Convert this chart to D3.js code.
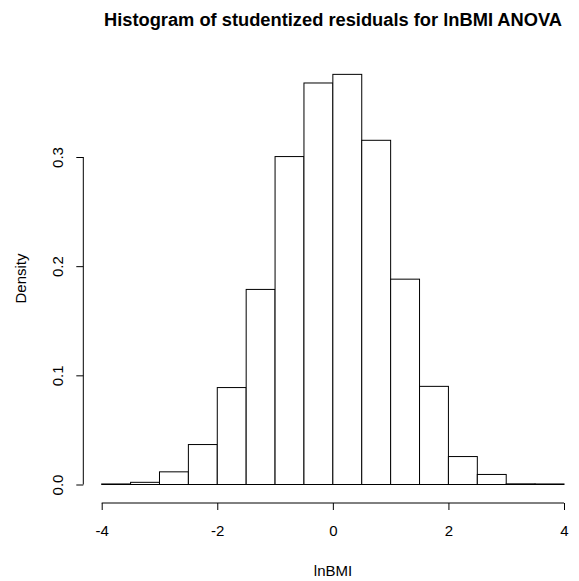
<!DOCTYPE html>
<html><head><meta charset="utf-8">
<script src="https://cdn.jsdelivr.net/npm/d3@7"></script>
<style>body{margin:0;background:#fff}svg{display:block}text{font-family:"Liberation Sans",Arial,sans-serif;fill:#000}</style>
</head><body>
<script>
const binStarts = [-4,-3.5,-3,-2.5,-2,-1.5,-1,-0.5,0,0.5,1,1.5,2,2.5,3,3.5];
const binWidth = 0.5;
const density = [0.0005,0.002,0.0116,0.0366,0.0888,0.1787,0.3004,0.3678,0.3757,0.3153,0.1881,0.0899,0.0256,0.0092,0.0006,0.0005];
const xTicks = [-4,-2,0,2,4];
const yTicks = [0,0.1,0.2,0.3];
const title = "Histogram of studentized residuals for lnBMI ANOVA";
const xLabel = "lnBMI";
const yLabel = "Density";

const W=579,H=581;
const svg=d3.select("body").append("svg").attr("width",W).attr("height",H);
const x=d3.scaleLinear().domain([-4,4]).range([101.7,564]);
const y=d3.scaleLinear().domain([0,0.3]).range([484.5,157]);

svg.append("g").selectAll("rect").data(density).join("rect")
  .attr("x",(d,i)=>x(binStarts[i]))
  .attr("width",(d,i)=>x(binStarts[i]+binWidth)-x(binStarts[i]))
  .attr("y",d=>y(d)).attr("height",d=>y(0)-y(d))
  .attr("fill","#fff").attr("stroke","#000").attr("stroke-width",1);

const xa=svg.append("g").attr("transform","translate(0,503)")
  .call(d3.axisBottom(x).tickValues(xTicks).tickSize(7).tickFormat(d=>String(d)));
xa.select(".domain").attr("d",`M${x(-4)},0H${x(4)}`);
xa.selectAll(".tick text").attr("y",33).attr("dy",0).style("font-size","15px").attr("fill","#000");

const ya=svg.append("g").attr("transform","translate(83.3,0)")
  .call(d3.axisLeft(y).tickValues(yTicks).tickSize(7).tickFormat(d3.format(".1f")));
ya.select(".domain").attr("d",`M0,${y(0)}V${y(0.3)}`);
ya.selectAll(".tick text").attr("x",0).attr("dy",0).attr("text-anchor","middle")
  .attr("transform","translate(-20.8,0) rotate(-90)").style("font-size","15px").attr("fill","#000");
svg.selectAll(".domain, .tick line").attr("stroke","#000");

svg.append("text").attr("x",333).attr("y",26).attr("text-anchor","middle")
  .style("font-size","18.3px").style("font-weight","bold").text(title);
svg.append("text").attr("x",333).attr("y",576).attr("text-anchor","middle").style("font-size","15px").text(xLabel);
svg.append("text").attr("transform","translate(26,278.5) rotate(-90)").attr("text-anchor","middle").style("font-size","15px").text(yLabel);
</script>
</body></html>
